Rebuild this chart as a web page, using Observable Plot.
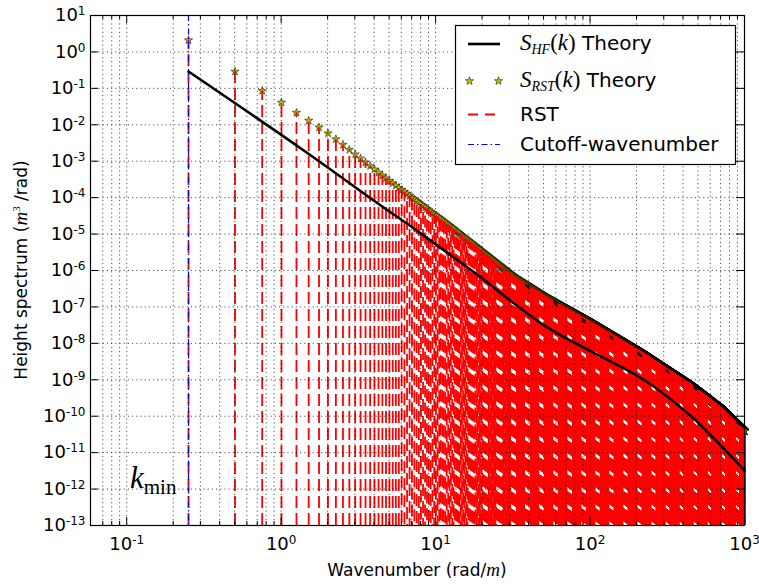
<!DOCTYPE html>
<html><head><meta charset="utf-8">
<script src="https://cdn.jsdelivr.net/npm/d3@7"></script>
<script src="https://cdn.jsdelivr.net/npm/@observablehq/plot@0.6"></script>
<style>
html,body{margin:0;padding:0;background:#fff}
svg{display:block}
</style>
</head><body><div id="chart"></div>
<script>
// ---- data ----
const kMin = 0.2513;            // cutoff wavenumber (rad/m)
const kMax = 1000;              // last RST harmonic
const yBase = 1e-13;            // bottom of the RST sticks

// S_HF(k) theory curve
const hfK = [0.2513, 1.35, 4.44, 7.29, 12.0, 19.7, 32.4, 53.2, 101.5, 219, 451, 778, 1000];
const hfS = [0.29, 2.2e-3, 6.0e-5, 1.39e-5, 3.0e-6, 6.4e-7, 1.22e-7, 2.7e-8, 6.0e-9, 1.05e-9, 1.0e-10, 1.0e-11, 3.2e-12];

// S_RST(k) theory (star centres)
const rstK = [0.2513, 0.5026, 0.7539, 1.0052, 1.2565, 1.5078, 2.07, 4.44, 7.29, 12.0, 19.7, 32.4, 53.2, 101.5, 219, 451, 704, 1000];
const rstS = [2.1, 0.29, 0.086, 0.041, 0.0215, 0.013, 5.4e-3, 4.3e-4, 8.9e-5, 1.83e-5, 3.5e-6, 6.6e-7, 1.76e-7, 3.8e-8, 5.4e-9, 7.2e-10, 1.68e-10, 3.9e-11];

// tick labels
const xTicks = [0.1, 1, 10, 100, 1000];
const yTicks = [1e-13, 1e-12, 1e-11, 1e-10, 1e-9, 1e-8, 1e-7, 1e-6, 1e-5, 1e-4, 1e-3, 1e-2, 1e-1, 1, 10];
const xMinor = [];
for (const d of [0.01, 0.1, 1, 10, 100]) for (let m = 2; m <= 9; m++) { const v = m * d; if (v >= 0.065 && v < 1000) xMinor.push(v); }

// RST harmonics at n*kMin, heights along the read S_RST curve (log-log between read points)
function rstAt(k) {
  for (let i = 0; i < rstK.length - 1; i++) {
    if (k <= rstK[i + 1] * 1.000001) {
      const t = (Math.log(k) - Math.log(rstK[i])) / (Math.log(rstK[i + 1]) - Math.log(rstK[i]));
      return Math.exp(Math.log(rstS[i]) + t * (Math.log(rstS[i + 1]) - Math.log(rstS[i])));
    }
  }
  return rstS[rstS.length - 1];
}
const harm = [];
for (let n = 1; n * kMin <= kMax; n++) harm.push({k: n * kMin, s: rstAt(n * kMin), b: yBase});
const hf = hfK.map((k, i) => ({k, s: hfS[i]}));

const W = 759, H = 586, mL = 90, mR = 15, mT = 15, mB = 61;
const iW = W - mL - mR, iH = H - mT - mB;

const expFmt = d => { const e = Math.round(Math.log10(d)); return e < 0 ? "-" + (-e) : String(e); };

const plot = Plot.plot({
  width: W, height: H,
  marginLeft: mL, marginRight: mR, marginTop: mT, marginBottom: mB,
  x: {type: "log", domain: [0.0583, 1000]},
  y: {type: "log", domain: [1e-13, 10]},
  style: {fontFamily: "DejaVu Sans", fontSize: "18px", color: "#000", background: "#fff", overflow: "visible"},
  marks: [
    Plot.dot(harm, {x: "k", y: "s", symbol: "star", r: 2.6, fill: "#bfbf00", stroke: "#000", strokeWidth: 0.5}),
    Plot.ruleX(harm, {x: "k", y1: "b", y2: "s", stroke: "#ff0000", strokeWidth: 1.8, strokeDasharray: "12,5"}),
    Plot.ruleX([kMin], {x: d => d, stroke: "#0000ff", strokeWidth: 1.2, strokeDasharray: "6,3,1.5,3"}),
    Plot.line(hf, {x: "k", y: "s", stroke: "#000", strokeWidth: 2.6, curve: "catmull-rom"}),
    Plot.ruleX(xTicks.concat(xMinor), {x: d => d, stroke: "#000", strokeWidth: 0.8, strokeOpacity: 0.85, strokeDasharray: "1.2,3"}),
    Plot.ruleY(yTicks, {y: d => d, stroke: "#000", strokeWidth: 0.8, strokeOpacity: 0.85, strokeDasharray: "1.2,3"}),
    Plot.frame({stroke: "#000", strokeWidth: 1.2}),
    Plot.ruleX(xTicks, {x: d => d, insetTop: iH - 8, stroke: "#000"}),
    Plot.ruleX(xTicks, {x: d => d, insetBottom: iH - 8, stroke: "#000"}),
    Plot.ruleX(xMinor, {x: d => d, insetTop: iH - 4, stroke: "#000"}),
    Plot.ruleX(xMinor, {x: d => d, insetBottom: iH - 4, stroke: "#000"}),
    Plot.ruleY(yTicks, {y: d => d, insetRight: iW - 8, stroke: "#000"}),
    Plot.ruleY(yTicks, {y: d => d, insetLeft: iW - 8, stroke: "#000"}),
    Plot.axisX(xTicks, {anchor: "bottom", tickSize: 0, tickPadding: 12, tickFormat: expFmt, fontSize: 18, label: null}),
    Plot.axisY(yTicks, {anchor: "left", tickSize: 0, tickPadding: 5, tickFormat: expFmt, fontSize: 18, label: null})
  ]
});

const NS = "http://www.w3.org/2000/svg";
function el(tag, attrs, parent) {
  const e = document.createElementNS(NS, tag);
  for (const k in attrs) e.setAttribute(k, attrs[k]);
  if (parent) parent.appendChild(e);
  return e;
}
function ts(parent, text, attrs) { const t = el("tspan", attrs || {}, parent); t.textContent = text; return t; }

// superscript tick labels: 10^e
plot.querySelectorAll('g[aria-label="x-axis tick label"] text, g[aria-label="y-axis tick label"] text').forEach(t => {
  const e = t.textContent;
  while (t.firstChild) t.removeChild(t.firstChild);
  ts(t, "10");
  ts(t, e, {"font-size": 12, dy: -6});
});

// dash phase of the dense RST sticks (reproduces the moiré of overlapping dashed sticks)
let rstGroup = null;
plot.querySelectorAll("g").forEach(g => { if (g.querySelectorAll(":scope > line").length === harm.length) rstGroup = g; });
if (rstGroup) {
  rstGroup.querySelectorAll(":scope > line").forEach((ln, i) => {
    if (harm[i].k < 6) return;
    const px = parseFloat(ln.getAttribute("x1"));
    const u = ((px - 90) % 14 + 14) % 14;
    const off = u < 6 ? 0.7 * u - 5 : (i % 2 ? 8.5 : 0) + (i % 3) * 2.5;
    ln.setAttribute("stroke-dashoffset", off);
  });
}

const svg = plot;
const serif = "Liberation Serif, DejaVu Serif, serif";

// k_min annotation
const km = el("text", {x: 130, y: 488, "text-anchor": "start", "font-family": serif, fill: "#000"}, svg);
ts(km, "k", {"font-style": "italic", "font-size": 31});
ts(km, "min", {"font-size": 21, dy: 6});

// axis titles
const xl = el("text", {x: 417, y: 576, "text-anchor": "middle", "font-family": "DejaVu Sans", "font-size": 17, fill: "#000"}, svg);
ts(xl, "Wavenumber (rad/");
ts(xl, "m", {"font-family": serif, "font-style": "italic", "font-size": 19});
ts(xl, ")");
const yl = el("text", {transform: "translate(27,270) rotate(-90)", "text-anchor": "middle", "font-family": "DejaVu Sans", "font-size": 17, fill: "#000"}, svg);
ts(yl, "Height spectrum (");
ts(yl, "m", {"font-family": serif, "font-style": "italic", "font-size": 19});
ts(yl, "3", {"font-family": serif, "font-size": 11, dy: -7});
ts(yl, " /rad)", {dy: 7});

// legend
const lg = el("g", {"text-anchor": "start"}, svg);
el("rect", {x: 455.5, y: 25.5, width: 280, height: 139, fill: "#fff", stroke: "#000", "stroke-width": 1.2}, lg);
el("line", {x1: 468, x2: 500, y1: 44, y2: 44, stroke: "#000", "stroke-width": 2.6}, lg);
const starPath = d3.symbol(d3.symbolStar, Math.PI * 2.6 * 2.6)();
for (const x of [469.5, 498.5]) el("path", {d: starPath, transform: `translate(${x},81)`, fill: "#bfbf00", stroke: "#000", "stroke-width": 0.5}, lg);
el("line", {x1: 468, x2: 500, y1: 114.5, y2: 114.5, stroke: "#ff0000", "stroke-width": 1.8, "stroke-dasharray": "10,7"}, lg);
el("line", {x1: 468, x2: 500, y1: 144.5, y2: 144.5, stroke: "#0000ff", "stroke-width": 1.2, "stroke-dasharray": "6,3,1.5,3"}, lg);

function mathLabel(y, sub) {
  const t = el("text", {x: 520, y, "text-anchor": "start", "font-family": serif, "font-size": 23, fill: "#000"}, lg);
  ts(t, "S", {"font-style": "italic"});
  ts(t, sub, {"font-style": "italic", "font-size": 14, dy: 4});
  ts(t, "(", {dy: -4});
  ts(t, "k", {"font-style": "italic"});
  ts(t, ")");
  ts(t, " Theory", {"font-family": "DejaVu Sans", "font-size": 20});
}
mathLabel(49.5, "HF");
mathLabel(86.5, "RST");
const r3 = el("text", {x: 520, y: 121, "text-anchor": "start", "font-family": "DejaVu Sans", "font-size": 20, fill: "#000"}, lg); r3.textContent = "RST";
const r4 = el("text", {x: 520, y: 151, "text-anchor": "start", "font-family": "DejaVu Sans", "font-size": 20, fill: "#000"}, lg); r4.textContent = "Cutoff-wavenumber";

document.getElementById("chart").appendChild(plot);
</script>
</body></html>
